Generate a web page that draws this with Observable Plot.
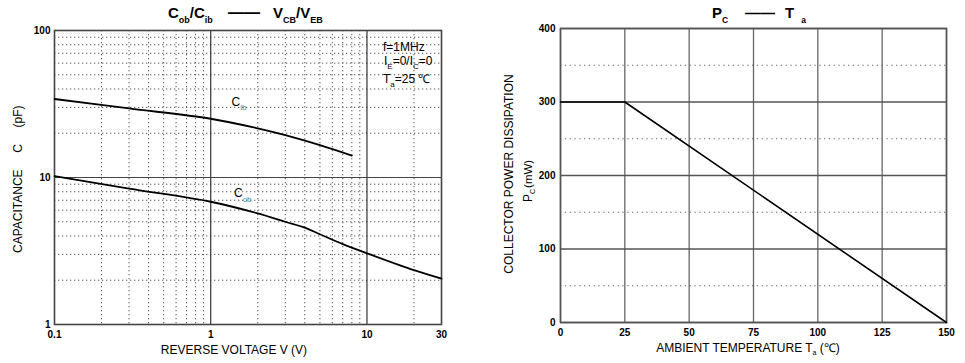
<!DOCTYPE html>
<html><head><meta charset="utf-8">
<script src="https://cdn.jsdelivr.net/npm/d3@7"></script>
<script src="https://cdn.jsdelivr.net/npm/@observablehq/plot@0.6"></script>
<style>
body{margin:0;background:#fff;font-family:"Liberation Sans",Arial,sans-serif;}
#wrap{position:relative;width:965px;height:363px;overflow:hidden;background:#fff;}
#wrap > svg{position:absolute;top:0;}
</style></head><body><div id="wrap"></div>
<script>
// ---- Data: capacitance vs reverse voltage ----
const cibV = [0.1, 0.3, 1, 2, 3, 5, 8];
const cibC = [34.2, 29.5, 25.1, 21.6, 19.4, 16.6, 14.1];
const cobV = [0.1, 0.3, 1, 2, 3, 4, 5, 7, 10, 20, 30];
const cobC = [10.2, 8.4, 6.84, 5.7, 5.0, 4.56, 4.11, 3.52, 3.05, 2.34, 2.05];
// ---- Data: power dissipation vs ambient temperature ----
const pcT = [0, 25, 150];
const pcP = [300, 300, 0];
// ---- Tick labels / grid values ----
const xTicksL = [0.1, 1, 10, 30];
const yTicksL = [1, 10, 100];
const xMajorL = [1, 10];
const yMajorL = [10];
const xMinorL = [0.2,0.3,0.4,0.5,0.6,0.7,0.8,0.9,2,3,4,5,6,7,8,9,20];
const yMinorL = [2,3,4,5,6,7,8,9,20,30,40,50,60,70,80,90];
const xTicksR = [0, 25, 50, 75, 100, 125, 150];
const yTicksR = [0, 100, 200, 300, 400];
const yMinorR = [50, 150, 250, 350];

const cib = cibV.map((v,i)=>({v, c:cibC[i]}));
const cob = cobV.map((v,i)=>({v, c:cobC[i]}));
const pc = pcT.map((t,i)=>({t, p:pcP[i]}));

const font = "'Liberation Sans', Arial, sans-serif";
const dotted = {stroke:"#555", strokeWidth:1, strokeDasharray:"1.3,2.7"};

const left = Plot.plot({
  width:460, height:363, marginLeft:54, marginRight:19, marginTop:30, marginBottom:39,
  style:{fontFamily:font, background:"transparent", overflow:"visible", color:"#000"},
  x:{type:"log", domain:[0.1,30]},
  y:{type:"log", domain:[1,100]},
  marks:[
    Plot.ruleX(xMinorL, dotted),
    Plot.ruleY(yMinorL, dotted),
    Plot.ruleX(xMajorL, {stroke:"#333", strokeWidth:1.2}),
    Plot.ruleY(yMajorL, {stroke:"#444", strokeWidth:1.2}),
    Plot.frame({stroke:"#444", strokeWidth:1.6}),
    Plot.line(cib, {x:"v", y:"c", curve:"catmull-rom", stroke:"#000", strokeWidth:1.8}),
    Plot.line(cob, {x:"v", y:"c", curve:"catmull-rom", stroke:"#000", strokeWidth:1.8}),
    Plot.axisX({ticks:xTicksL, tickFormat:d=>String(d), tickSize:0, tickPadding:6, fontSize:10, fontWeight:"bold", label:null}),
    Plot.axisY({ticks:yTicksL, tickFormat:d=>String(d), tickSize:0, tickPadding:4, fontSize:10, fontWeight:"bold", label:null})
  ]
});
left.style.left = "0px";

const right = Plot.plot({
  width:475, height:363, marginLeft:70, marginRight:19, marginTop:28, marginBottom:41,
  style:{fontFamily:font, background:"transparent", overflow:"visible", color:"#000"},
  x:{domain:[0,150]},
  y:{domain:[0,400]},
  marks:[
    Plot.ruleY(yMinorR, {stroke:"#666", strokeWidth:1, strokeDasharray:"1.3,3.5"}),
    Plot.ruleX(xTicksR, {stroke:"#666", strokeWidth:1.3}),
    Plot.ruleY(yTicksR, {stroke:"#555", strokeWidth:1.3}),
    Plot.frame({stroke:"#555", strokeWidth:1.6}),
    Plot.line(pc, {x:"t", y:"p", stroke:"#000", strokeWidth:1.6}),
    Plot.axisX({ticks:xTicksR, tickSize:0, tickPadding:6, fontSize:10, fontWeight:"bold", label:null}),
    Plot.axisY({ticks:yTicksR, tickSize:0, tickPadding:5, fontSize:10, fontWeight:"bold", label:null})
  ]
});
right.style.left = "490px";

const wrap = document.getElementById("wrap");
wrap.appendChild(left);
wrap.appendChild(right);

// ---- Text overlay ----
const ov = d3.select(wrap).append("svg")
  .attr("width",965).attr("height",363)
  .style("position","absolute").style("left","0px").style("top","0px")
  .style("pointer-events","none")
  .attr("font-family", font);

// one <text> with flowing tspans; "off" = vertical offset (subscript)
function M(x, y, parts, o={}) {
  let parent = ov, tx = x, ty = y;
  if (o.rot) { parent = ov.append("g").attr("transform", `translate(${x},${y}) rotate(-90)`); tx = 0; ty = 0; }
  const t = parent.append("text").attr("x", tx).attr("y", ty)
    .attr("fill", "#000").attr("text-anchor", o.anchor || "start")
    .style("white-space","pre");
  if (o.bold) t.attr("font-weight","bold");
  let prev = 0;
  for (const p of parts) {
    const off = p.off || 0;
    t.append("tspan")
      .attr("dy", off - prev)
      .attr("dx", p.dx || 0)
      .attr("font-size", p.s || 12)
      .attr("fill", p.fill || "#000")
      .text(p.t);
    prev = off;
  }
  return t;
}
const teal = "#2f8fb3";

// Left title
M(168, 18, [{t:"C",s:15},{t:"ob",s:9,off:5},{t:"/C",s:15},{t:"ib",s:9,off:5}], {bold:true});
M(244, 18, [{t:"——",s:16}], {bold:true, anchor:"middle"});
M(273, 18, [{t:"V",s:15},{t:"CB",s:9,off:5},{t:"/V",s:15},{t:"EB",s:9,off:5}], {bold:true});

// Left annotations
M(383, 51, [{t:"f=1MHz"}]);
M(384, 65, [{t:"I"},{t:"E",s:8,off:3.5},{t:"=0/I"},{t:"C",s:8,off:3.5},{t:"=0"}]);
M(383, 83, [{t:"T"},{t:"a",s:8,off:3.5},{t:"=25 ℃"}]);

// Curve labels
M(231.5, 106, [{t:"C"},{t:"ib",s:8,off:4,fill:teal}]);
M(234, 197, [{t:"C"},{t:"ob",s:8,off:4.5,fill:teal}]);

// Left axis labels
M(22, 253, [{t:"CAPACITANCE     C     (pF)"}], {rot:true});
M(234, 354, [{t:"REVERSE VOLTAGE V (V)"}], {anchor:"middle"});

// Right title
M(712, 17.5, [{t:"P",s:15},{t:"C",s:8.5,off:5}], {bold:true});
M(760, 17.5, [{t:"——",s:15}], {bold:true, anchor:"middle"});
M(785, 17.5, [{t:"T",s:15},{t:"a",s:8.5,off:5,dx:7}], {bold:true});

// Right axis labels
M(513, 174, [{t:"COLLECTOR POWER DISSIPATION"}], {rot:true, anchor:"middle"});
M(531.5, 202, [{t:"P"},{t:"C",s:7,off:3.5},{t:"(mW)",s:11.5,dx:1}], {rot:true});
M(748, 352, [{t:"AMBIENT TEMPERATURE T"},{t:"a",s:7,off:3},{t:" (℃)"}], {anchor:"middle"});
</script>
</body></html>
